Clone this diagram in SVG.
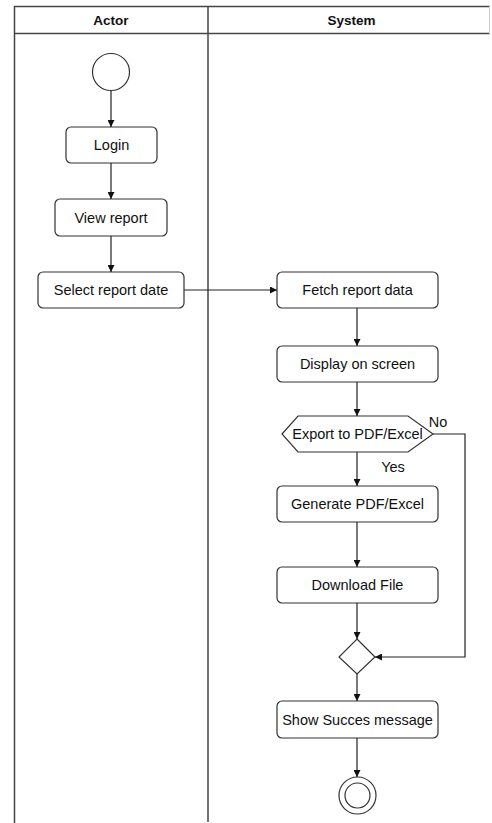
<svg xmlns="http://www.w3.org/2000/svg" width="492" height="823" viewBox="0 0 492 823">
<style>
.lane{fill:none;stroke:#444;stroke-width:1.5}
.hdr{font-family:"Liberation Sans",Arial,sans-serif;font-size:13.5px;font-weight:bold;fill:#111;text-anchor:middle}
.box{fill:#fff;stroke:#333;stroke-width:1.2}
.lbl{font-family:"Liberation Sans",Arial,sans-serif;font-size:14.5px;fill:#111;text-anchor:middle;dominant-baseline:central}
.edge{fill:none;stroke:#222;stroke-width:1.2;marker-end:url(#arr)}
</style>
<defs>
<marker id="arr" viewBox="0 0 10 10" refX="10" refY="5" markerWidth="7" markerHeight="7" markerUnits="userSpaceOnUse" orient="auto">
<path d="M0,0 L10,5 L0,10 z" fill="#111"/>
</marker>
</defs>
<rect width="492" height="823" fill="#fff"/>
<g id="lanes">
<line class="lane" x1="14" y1="6.5" x2="490" y2="6.5"/>
<line class="lane" x1="14" y1="33.5" x2="490" y2="33.5"/>
<line class="lane" x1="14.5" y1="6" x2="14.5" y2="823"/>
<line class="lane" x1="208" y1="6" x2="208" y2="822"/>
<line x1="489.5" y1="6" x2="489.5" y2="34" stroke="#ccc" stroke-width="1"/>
<text class="hdr" x="111" y="25">Actor</text>
<text class="hdr" x="351.5" y="25">System</text>
</g>
<g id="start"><circle cx="111" cy="72" r="18.5" fill="#fff" stroke="#333" stroke-width="1.2"/></g>
<g id="login"><rect class="box" x="66" y="127" width="91" height="36" rx="5"/><text class="lbl" x="111.5" y="145">Login</text></g>
<g id="view"><rect class="box" x="55" y="199" width="112" height="37" rx="5"/><text class="lbl" x="111" y="217.5">View report</text></g>
<g id="select"><rect class="box" x="38" y="272" width="146" height="36" rx="5"/><text class="lbl" x="111" y="290">Select report date</text></g>
<g id="fetch"><rect class="box" x="277" y="272" width="161" height="36" rx="5"/><text class="lbl" x="357.5" y="290">Fetch report data</text></g>
<g id="display"><rect class="box" x="277" y="346" width="161" height="36" rx="5"/><text class="lbl" x="357.5" y="364">Display on screen</text></g>
<g id="export"><polygon class="box" points="282,434 298,416 408,416 433,434 408,452 298,452"/><text class="lbl" x="357.5" y="434">Export to PDF/Excel</text></g>
<g id="generate"><rect class="box" x="277" y="486" width="161" height="36" rx="5"/><text class="lbl" x="357.5" y="504">Generate PDF/Excel</text></g>
<g id="download"><rect class="box" x="277" y="567" width="161" height="36" rx="5"/><text class="lbl" x="357.5" y="585">Download File</text></g>
<g id="merge"><polygon class="box" points="357,639 375,657 357,674 339,657"/></g>
<g id="success"><rect class="box" x="277" y="701" width="161" height="37" rx="5"/><text class="lbl" x="357.5" y="719.5">Show Succes message</text></g>
<g id="end"><circle cx="357.5" cy="795.5" r="18.5" fill="#fff" stroke="#333" stroke-width="1.2"/><circle cx="357.5" cy="795.5" r="12.5" fill="#fff" stroke="#333" stroke-width="1.2"/></g>
<g id="connectors">
<line class="edge" x1="111" y1="90.5" x2="111" y2="127"/>
<line class="edge" x1="111" y1="163" x2="111" y2="199"/>
<line class="edge" x1="111" y1="236" x2="111" y2="272"/>
<line class="edge" x1="184" y1="290" x2="277" y2="290"/>
<line class="edge" x1="357" y1="308" x2="357" y2="346"/>
<line class="edge" x1="357" y1="382" x2="357" y2="416"/>
<line class="edge" x1="357" y1="452" x2="357" y2="486"/>
<line class="edge" x1="357" y1="522" x2="357" y2="567"/>
<line class="edge" x1="357" y1="603" x2="357" y2="639"/>
<polyline class="edge" points="433,434 465,434 465,657 375,657"/>
<line class="edge" x1="357" y1="674" x2="357" y2="701"/>
<line class="edge" x1="357" y1="738" x2="357" y2="777"/>
<text class="lbl" x="438" y="422">No</text>
<text class="lbl" x="393" y="467">Yes</text>
</g>
</svg>
